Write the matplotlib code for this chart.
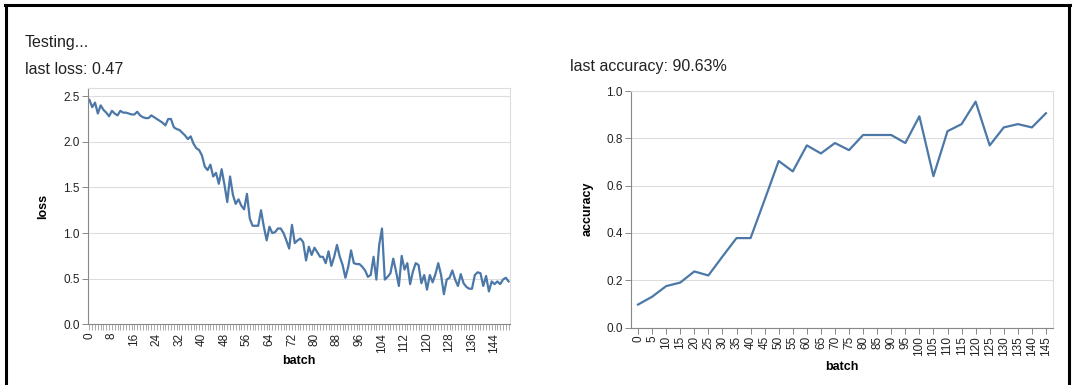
import matplotlib
matplotlib.use('Agg')
import matplotlib.pyplot as plt
from matplotlib.lines import Line2D

plt.rcParams['font.family'] = ['Liberation Sans', 'DejaVu Sans']

# loss per batch (0..149)
loss = [
    2.46, 2.38, 2.43, 2.31, 2.40, 2.35, 2.32, 2.28, 2.34, 2.31,
    2.29, 2.34, 2.32, 2.32, 2.31, 2.30, 2.30, 2.33, 2.29, 2.27,
    2.26, 2.26, 2.29, 2.27, 2.25, 2.23, 2.21, 2.18, 2.25, 2.25,
    2.16, 2.14, 2.13, 2.10, 2.07, 2.03, 2.06, 1.98, 1.93, 1.91,
    1.85, 1.73, 1.69, 1.75, 1.62, 1.66, 1.54, 1.70, 1.53, 1.34,
    1.62, 1.42, 1.32, 1.37, 1.30, 1.26, 1.43, 1.16, 1.08, 1.08,
    1.08, 1.25, 1.07, 0.92, 1.07, 1.00, 1.01, 1.05, 1.05, 1.00,
    0.92, 0.83, 1.09, 0.89, 0.92, 0.94, 0.90, 0.70, 0.85, 0.76,
    0.84, 0.79, 0.74, 0.74, 0.67, 0.80, 0.64, 0.74, 0.87, 0.74,
    0.65, 0.51, 0.63, 0.81, 0.67, 0.66, 0.66, 0.63, 0.59, 0.52,
    0.54, 0.74, 0.49, 0.87, 1.05, 0.49, 0.52, 0.56, 0.72, 0.58,
    0.42, 0.75, 0.60, 0.67, 0.44, 0.58, 0.67, 0.65, 0.45, 0.54,
    0.38, 0.54, 0.46, 0.55, 0.67, 0.54, 0.33, 0.49, 0.51, 0.59,
    0.49, 0.42, 0.55, 0.45, 0.41, 0.39, 0.39, 0.54, 0.57, 0.56,
    0.42, 0.53, 0.36, 0.47, 0.44, 0.47, 0.44, 0.49, 0.51, 0.47,
]
loss_batches = list(range(len(loss)))
loss_label_batches = list(range(0, 145, 8))

# accuracy every 5 batches
acc_batches = list(range(0, 150, 5))
accuracy = [
    0.097, 0.13, 0.175, 0.19, 0.237, 0.22, 0.30, 0.378, 0.378, 0.54,
    0.704, 0.66, 0.77, 0.736, 0.78, 0.75, 0.814, 0.814, 0.814, 0.78,
    0.893, 0.64, 0.83, 0.86, 0.955, 0.77, 0.846, 0.86, 0.846, 0.906,
]

status_text = 'Testing...'
loss_text = 'last loss: 0.47'
acc_text = 'last accuracy: 90.63%'

line_color = '#4c78a8'
axis_color = '#888888'
grid_color = '#dddddd'

W, H = 1074, 385
fig = plt.figure(figsize=(W / 100, H / 100), dpi=100)


def box(x0, y0, x1, y1):
    # pixel box (top-left origin) -> figure fraction rect
    return [x0 / W, 1 - y1 / H, (x1 - x0) / W, (y1 - y0) / H]


def style_axes(ax):
    for side in ('top', 'right'):
        ax.spines[side].set_color(grid_color)
        ax.spines[side].set_linewidth(0.8)
    for side in ('left', 'bottom'):
        ax.spines[side].set_color(axis_color)
        ax.spines[side].set_linewidth(0.8)
    ax.grid(axis='y', color=grid_color, lw=0.8)
    ax.set_axisbelow(True)
    ax.tick_params(axis='both', color=axis_color, length=4, width=0.7,
                   labelsize=8.5, labelcolor='#222222', pad=2)
    ax.tick_params(axis='x', labelrotation=90)


ax1 = fig.add_axes(box(88, 88, 510, 324.3))
ax1.plot(loss_batches, loss, color=line_color, lw=1.6)
ax1.set_xlim(-0.5, len(loss) - 0.5)
ax1.set_ylim(0, 2.59)
ax1.set_yticks([0, 0.5, 1.0, 1.5, 2.0, 2.5])
ax1.set_yticklabels(['0.0', '0.5', '1.0', '1.5', '2.0', '2.5'])
ax1.set_xticks(loss_batches, minor=True)
ax1.set_xticks(loss_label_batches)
ax1.set_xticklabels([str(b) for b in loss_label_batches])
style_axes(ax1)
ax1.tick_params(axis='x', which='minor', color=axis_color, length=4, width=0.5)
ax1.tick_params(axis='x', which='major', width=0.5)
ax1.set_xlabel('batch', fontsize=9, fontweight='bold', labelpad=2)
ax1.set_ylabel('loss', fontsize=9, fontweight='bold', labelpad=10)

ax2 = fig.add_axes(box(631, 91, 1053, 327.5))
ax2.plot(acc_batches, accuracy, color=line_color, lw=1.6)
ax2.set_xlim(-2.5, 147.5)
ax2.set_ylim(0, 1.0)
ax2.set_yticks([0, 0.2, 0.4, 0.6, 0.8, 1.0])
ax2.set_yticklabels(['0.0', '0.2', '0.4', '0.6', '0.8', '1.0'])
ax2.set_xticks(acc_batches)
ax2.set_xticklabels([str(b) for b in acc_batches])
style_axes(ax2)
ax2.set_xlabel('batch', fontsize=9, fontweight='bold', labelpad=4)
ax2.set_ylabel('accuracy', fontsize=9, fontweight='bold', labelpad=9)

fig.text(25 / W, 1 - 43 / H, status_text, fontsize=11.5, va='center', color='#222222')
fig.text(25 / W, 1 - 70 / H, loss_text, fontsize=11.5, va='center', color='#222222')
fig.text(570 / W, 1 - 67 / H, acc_text, fontsize=11.5, va='center', color='#222222')

# black screenshot frame: top, left and right edges
for xs, ys in [((5, 1070), (5, 5)), ((6, 6), (5, 385)), ((1069, 1069), (5, 385))]:
    fig.add_artist(Line2D([x / W for x in xs], [1 - y / H for y in ys],
                          transform=fig.transFigure, color='black', lw=2.2))

fig.savefig('out.png', dpi=100)
